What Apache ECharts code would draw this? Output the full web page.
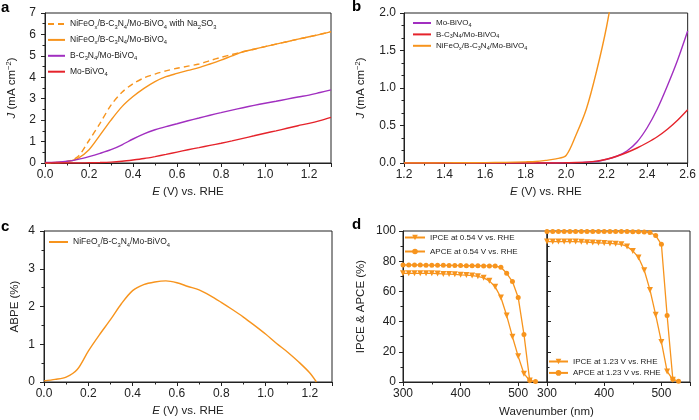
<!DOCTYPE html>
<html><head><meta charset="utf-8">
<script src="https://cdn.jsdelivr.net/npm/echarts@6/dist/echarts.min.js"></script>
<style>html,body{margin:0;padding:0;background:#fff}#c{width:699px;height:420px}</style>
</head><body><div id="c"></div>
<script>
// ---------- Panel a: J-E curves ----------
const aX = [0,0.05,0.1,0.15,0.2,0.25,0.3,0.35,0.4,0.45,0.5,0.55,0.6,0.65,0.7,0.75,0.8,0.85,0.9,0.95,1.0,1.05,1.1,1.15,1.2,1.25,1.3];
const aNiNa = [0.00,0.02,0.07,0.30,1.05,1.85,2.70,3.30,3.70,3.97,4.15,4.30,4.42,4.52,4.62,4.78,4.93,5.06,5.19,5.31,5.43,5.55,5.66,5.78,5.89,6.00,6.13];
const aNi   = [0.00,0.02,0.06,0.22,0.62,1.30,2.00,2.63,3.10,3.48,3.80,4.03,4.18,4.32,4.45,4.62,4.80,5.00,5.19,5.31,5.43,5.55,5.66,5.78,5.89,6.00,6.13];
const aBC   = [0.02,0.04,0.08,0.17,0.30,0.45,0.62,0.85,1.12,1.36,1.55,1.70,1.83,1.97,2.10,2.23,2.35,2.47,2.58,2.69,2.79,2.88,2.98,3.08,3.17,3.29,3.41];
const aMo   = [0,0,0,0,0.01,0.02,0.04,0.08,0.14,0.21,0.30,0.40,0.51,0.62,0.72,0.82,0.92,1.03,1.15,1.27,1.39,1.50,1.62,1.74,1.85,1.98,2.13];
const aNames = ['NiFeO_x/B-C_3N_4/Mo-BiVO_4 with Na_2SO_3','NiFeO_x/B-C_3N_4/Mo-BiVO_4','B-C_3N_4/Mo-BiVO_4','Mo-BiVO_4'];

// ---------- Panel b: dark current ----------
const bX  = [1.2,1.3,1.4,1.5,1.6,1.7,1.8,1.85,1.9,1.95,2.0,2.05,2.1,2.15,2.2,2.25,2.3,2.35,2.4,2.45,2.5,2.55,2.6];
const bMo = [0,0,0,0,0,0,0,0,0,0,0.002,0.005,0.01,0.02,0.05,0.09,0.16,0.28,0.47,0.72,1.03,1.37,1.76];
const bBC = [0,0,0,0,0,0,0,0,0,0,0.003,0.006,0.012,0.025,0.05,0.09,0.14,0.20,0.27,0.35,0.45,0.57,0.71];
const bNi = [0,0,0.002,0.003,0.005,0.008,0.015,0.02,0.035,0.055,0.10,0.38,0.72,1.22,1.82,2.6,null,null,null,null,null,null,null];
const bNames = ['Mo-BiVO_4','B-C_3N_4/Mo-BiVO_4','NiFeO_x/B-C_3N_4/Mo-BiVO_4'];

// ---------- Panel c: ABPE ----------
const cX = [0,0.05,0.1,0.15,0.2,0.25,0.3,0.35,0.4,0.45,0.5,0.55,0.6,0.65,0.7,0.75,0.8,0.85,0.9,0.95,1.0,1.05,1.1,1.15,1.2,1.23];
const cABPE = [0.03,0.07,0.13,0.33,0.82,1.25,1.65,2.08,2.42,2.58,2.65,2.68,2.63,2.53,2.44,2.29,2.11,1.92,1.72,1.50,1.27,1.02,0.79,0.53,0.24,0.0];
const cNames = ['NiFeO_x/B-C_3N_4/Mo-BiVO_4'];

// ---------- Panel d: IPCE & APCE ----------
const dX = [300,310,320,330,340,350,360,370,380,390,400,410,420,430,440,450,460,470,480,490,500,510,520,530];
const dIPCE054 = [72,72,72,72,72,72,71.8,71.6,71.5,71.3,71,70.8,70.5,70,69,67,63,56,44,30,17,5.5,1,null];
const dAPCE054 = [77.5,77.5,77.5,77.5,77.4,77.4,77.3,77.3,77.2,77.2,77.1,77,77,77,76.9,76.9,76.8,76,72,66.5,56,31.5,1,0.3];
const dIPCE123 = [93,93,93,93,93,93,92.8,92.6,92.4,92.2,92,91.8,91.5,91.2,89.8,86.8,82.5,74,61,44.5,26.5,7,1.5,null];
const dAPCE123 = [99.6,99.6,99.6,99.6,99.6,99.6,99.6,99.6,99.6,99.6,99.6,99.6,99.6,99.6,99.6,99.5,99.5,99.4,99,97,91.2,44,1.8,0.5];
const dNames = ['IPCE at 0.54 V vs. RHE','APCE at 0.54 V vs. RHE','IPCE at 1.23 V vs. RHE','APCE at 1.23 V vs. RHE'];

const ORANGE = '#f7941d', PURPLE = '#a12fc0', RED = '#e5232b';
const FONT = '"Liberation Sans", Arial, Helvetica, sans-serif';
const INK = '#222';

function pairs(xs, ys){ return xs.map((x,i)=>[x, ys[i]]); }
function rich(label){
  return ('{n|' + label.replace(/_(.)/g, '}{s|$1}{n|') + '}').replace(/\{n\|\}/g,'');
}
function legendRich(fs, lh){
  return {
    n:{fontSize:fs, lineHeight:lh, fontFamily:FONT, color:INK, verticalAlign:'middle'},
    s:{fontSize:fs*0.68, lineHeight:fs*0.8, fontFamily:FONT, color:INK, verticalAlign:'bottom'}
  };
}
const nameRich = {
  n:{fontSize:11.5, lineHeight:14, fontFamily:FONT, color:INK, verticalAlign:'middle'},
  i:{fontSize:11.5, lineHeight:14, fontFamily:FONT, color:INK, fontStyle:'italic', verticalAlign:'middle'},
  sup:{fontSize:7.5, lineHeight:8, fontFamily:FONT, color:INK, verticalAlign:'top'}
};
const J_NAME = '{i|J}{n| (mA cm}{sup|−2}{n|)}';
const E_NAME = '{i|E}{n| (V) vs. RHE}';

function valAxis(o){
  return {
    type:'value', gridIndex:o.grid, min:o.min, max:o.max, interval:o.interval,
    axisLine:{show:true, onZero:false, lineStyle:{color:INK, width:1}},
    axisTick:{show:true, inside:!!o.tickInside, length:4, lineStyle:{color:INK, width:1}},
    minorTick:{show:true, splitNumber:o.minor||2, length:2.5, lineStyle:{color:INK, width:1}},
    splitLine:{show:false}, minorSplitLine:{show:false},
    axisLabel:{show:o.labels!==false, fontSize:12, fontFamily:FONT, color:INK, margin:o.margin||7,
      showMaxLabel:o.showMax!==false, formatter:o.fmt},
    name:o.name||'', nameLocation:'middle', nameGap:o.nameGap||25,
    nameTextStyle:{fontSize:11.5, fontFamily:FONT, color:INK, rich:nameRich}
  };
}
const f1 = v => v.toFixed(1);
const f0 = v => String(Math.round(v));

const grids = [
  {left:45, top:13, width:286, height:150},
  {left:404, top:13, width:287, height:150},
  {left:44, top:231, width:288, height:151},
  {left:403, top:231, width:144, height:151},
  {left:547, top:231, width:143, height:151}
].map(g=>Object.assign({show:true, borderColor:INK, borderWidth:1, backgroundColor:'transparent'}, g));

const xAxes = [
  valAxis({grid:0, min:0, max:1.3, interval:0.2, fmt:f1, showMax:false, name:E_NAME, nameGap:22, margin:6}),
  valAxis({grid:1, min:1.2, max:2.6, interval:0.2, fmt:f1, name:E_NAME, nameGap:22, margin:6}),
  valAxis({grid:2, min:0, max:1.3, interval:0.2, fmt:f1, showMax:false, name:E_NAME, nameGap:22, margin:6}),
  valAxis({grid:3, min:300, max:550, interval:100, fmt:f0, showMax:false, margin:6}),
  valAxis({grid:4, min:300, max:550, interval:100, fmt:f0, showMax:false, margin:6})
];
const yAxes = [
  valAxis({grid:0, min:0, max:7, interval:1, fmt:f0, name:J_NAME, nameGap:26, margin:9}),
  valAxis({grid:1, min:0, max:2, interval:0.5, minor:3, fmt:f1, name:J_NAME, nameGap:36, margin:8}),
  valAxis({grid:2, min:0, max:4, interval:1, fmt:f0, name:'{n|ABPE (%)}', nameGap:22, margin:9}),
  valAxis({grid:3, min:0, max:100, interval:20, fmt:f0, name:'{n|IPCE & APCE (%)}', nameGap:35, margin:7}),
  valAxis({grid:4, min:0, max:100, interval:20, labels:false, tickInside:true})
];

function lineSeries(panel, label, xi, yi, xs, ys, color, extra){
  return Object.assign({
    type:'line', name:panel+':'+label, xAxisIndex:xi, yAxisIndex:yi,
    data:pairs(xs, ys), showSymbol:false, symbol:'none', smooth:0.3,
    lineStyle:{color:color, width:1.4}, itemStyle:{color:color}, clip:true, z:3
  }, extra||{});
}
const TRI = 'path://M0,0L10,0L5,9Z';
function markSeries(panel, label, xi, yi, xs, ys, sym){
  return {
    type:'line', name:panel+':'+label, xAxisIndex:xi, yAxisIndex:yi,
    data:pairs(xs, ys), showSymbol:true, symbol:sym, symbolSize:sym==='circle'?5:6,
    lineStyle:{color:ORANGE, width:1.3}, itemStyle:{color:ORANGE}, clip:false, connectNulls:false
  };
}

const series = [
  lineSeries('a', aNames[0], 0,0, aX, aNiNa, ORANGE, {lineStyle:{color:ORANGE, width:1.4, type:[6,4]}}),
  lineSeries('a', aNames[1], 0,0, aX, aNi, ORANGE),
  lineSeries('a', aNames[2], 0,0, aX, aBC, PURPLE),
  lineSeries('a', aNames[3], 0,0, aX, aMo, RED),
  lineSeries('b', bNames[0], 1,1, bX, bMo, PURPLE),
  lineSeries('b', bNames[1], 1,1, bX, bBC, RED),
  lineSeries('b', bNames[2], 1,1, bX, bNi, ORANGE),
  lineSeries('c', cNames[0], 2,2, cX, cABPE, ORANGE),
  markSeries('d', dNames[0], 3,3, dX, dIPCE054, TRI),
  markSeries('d', dNames[1], 3,3, dX, dAPCE054, 'circle'),
  markSeries('e', dNames[2], 4,4, dX, dIPCE123, TRI),
  markSeries('e', dNames[3], 4,4, dX, dAPCE123, 'circle')
];

function legend(panel, names, left, top, iw, ih, fs, lh, gap, hideSym){
  const l = {
    show:true, orient:'vertical', left:left, top:top, padding:0, itemGap:gap,
    itemWidth:iw, itemHeight:ih, align:'left', selectedMode:false,
    data:names.map(n=>panel+':'+n),
    formatter:name=>rich(name.slice(2)),
    textStyle:{fontSize:fs, fontFamily:FONT, color:INK, rich:legendRich(fs, lh)}
  };
  if (hideSym) l.itemStyle = {opacity:0};
  return l;
}
const legends = [
  legend('a', aNames, 47, 19.5, 17, 10, 8.5, 12, 5.4, true),
  legend('b', bNames, 412, 19, 18, 8, 8, 10, 2.4, true),
  legend('c', cNames, 48, 237.5, 19, 10, 8.5, 12, 4, true),
  legend('d', dNames.slice(0,2), 404, 233.5, 20, 7, 8, 11, 6),
  legend('e', dNames.slice(2,4), 548, 357.5, 19, 7, 8, 11, 3.4)
];

const letter = (t,x,y)=>({type:'text', left:x, top:y, style:{text:t, font:'bold 15px '+FONT, fill:'#000'}});

const option = {
  animation:false,
  backgroundColor:'#fff',
  grid:grids, xAxis:xAxes, yAxis:yAxes, series:series, legend:legends,
  graphic:[
    letter('a',1,0), letter('b',352,-1), letter('c',1,219), letter('d',352,217),
    {type:'text', x:546.5, y:411.5, style:{text:'Wavenumber (nm)', font:'11.5px '+FONT, fill:INK, align:'center', verticalAlign:'middle'}}
  ]
};
const chart = echarts.init(document.getElementById('c'), null, {renderer:'canvas'});
chart.setOption(option);
</script></body></html>
